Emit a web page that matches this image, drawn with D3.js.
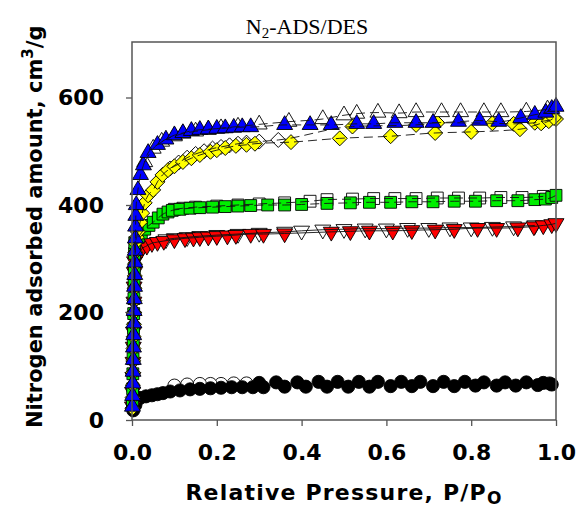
<!DOCTYPE html>
<html><head><meta charset="utf-8">
<script src="https://cdn.jsdelivr.net/npm/d3@7"></script>
<style>body{margin:0;background:#fff}svg{display:block}</style>
</head><body>
<svg id="c" width="577" height="509"></svg>
<script>
// ---------- DATA ----------
const xTicks = [0.0, 0.2, 0.4, 0.6, 0.8, 1.0];
const yTicks = [0, 200, 400, 600];

// Blue (filled/open up-triangles)
const blueAdsP = [0.001,0.0015,0.002,0.0025,0.003,0.0035,0.004,0.0045,0.005,0.0055,0.006,0.0065,0.007,0.0075,0.008,0.0085,0.009,
  0.01,0.014,0.02,0.027,0.038,0.06,0.08,0.1,0.12,0.14,0.16,0.18,0.2,0.22,0.24,0.26,0.28,0.36,0.42,0.47,0.53,0.57,0.62,0.67,0.71,0.77,0.82,0.865,0.917,0.95,0.976,0.99,1.0];
const blueAdsV = [25,45,68,90,112,135,158,180,203,225,248,270,293,315,338,360,380,
  400,428,456,474,497,512,522,530,534,538,540,541,542,543,544,545,545,549,549,549,551,551,553,553,553,555,557,555,562,568,572,579,583];
const blueDesP = [0.98,0.93,0.87,0.83,0.775,0.73,0.67,0.63,0.58,0.53,0.5,0.45,0.37,0.3,0.25,0.21,0.18,0.15,0.12,0.1,0.07,0.05,0.03];
const blueDesV = [578,574,573,573,573,573,573,571,572,570,567,560,555,550,546,543,540,537,533,528,518,505,480];

// Yellow (diamonds)
const yellowAdsP = [0.001,0.0015,0.002,0.0025,0.003,0.0035,0.004,0.0045,0.005,0.0055,0.006,0.0065,0.007,0.0075,0.008,
  0.011,0.014,0.019,0.024,0.03,0.038,0.05,0.06,0.072,0.085,0.1,0.12,0.14,0.16,0.185,0.2,0.22,0.245,0.27,0.29,0.375,0.49,0.61,0.715,0.80,0.915,0.965,0.983,0.995];
const yellowAdsV = [22,42,65,88,110,133,155,178,200,222,245,268,290,312,330,
  340,350,368,385,404,418,428,443,456,465,472,480,487,493,499,502,506,510,512,514,517,524,528,534,536,541,552,556,562];
const yellowDesHighP = [1.0,0.985,0.97,0.95,0.9,0.85,0.72,0.67,0.52];
const yellowDesHighV = [560,558,556,553,551,552,553,549,546];
const yellowDesLowP = [0.345,0.3,0.27,0.25,0.23,0.21,0.19,0.17,0.15,0.13,0.11,0.09];
const yellowDesLowV = [521,518,516,514,511,508,505,500,495,488,479,468];

// Green (squares)
const greenAdsP = [0.001,0.0015,0.002,0.0025,0.003,0.0035,0.004,0.0045,0.005,0.0055,0.006,0.0065,
  0.015,0.022,0.03,0.04,0.05,0.062,0.073,0.085,0.095,0.113,0.137,0.16,0.19,0.22,0.25,0.28,0.32,0.36,0.4,0.46,0.515,0.56,0.61,0.66,0.71,0.76,0.81,0.86,0.91,0.95,0.975,0.99,1.0];
const greenAdsV = [30,58,86,114,142,170,198,226,254,282,310,330,
  340,348,355,362,368,376,383,387,390,392,394,395,396,397,398,399,400,400,401,403,404,405,405,406,406,407,407,408,408,410,411,414,418];
const greenDesP = [0.97,0.92,0.87,0.82,0.77,0.72,0.67,0.62,0.57,0.52,0.46,0.42,0.36,0.3,0.25,0.2,0.15,0.12,0.1];
const greenDesV = [416,414,414,413,413,413,412,412,412,411,410,407,404,402,400,398,396,394,392];

// Red (down-triangles)
const redAdsP = [0.001,0.0015,0.002,0.0025,0.003,0.0035,0.004,0.0045,0.005,0.0055,0.006,
  0.012,0.018,0.023,0.035,0.047,0.06,0.075,0.1,0.125,0.145,0.16,0.18,0.2,0.225,0.245,0.28,0.31,0.36,0.47,0.515,0.56,0.615,0.66,0.715,0.76,0.815,0.86,0.91,0.948,0.97,0.99,1.0];
const redAdsV = [25,52,80,108,136,164,192,220,248,275,295,
  305,312,318,324,329,331,333,336,338,339,340,341,342,343,344,346,346,347,350,351,352,352,353,354,355,357,357,358,360,362,364,366];
const redDesP = [0.95,0.9,0.85,0.8,0.75,0.7,0.65,0.6,0.55,0.5,0.45,0.4,0.36,0.3,0.25,0.2,0.16,0.13,0.1,0.08];
const redDesV = [362,360,359,358,358,357,357,356,356,355,354,352,350,348,346,344,342,340,338,336];

// Black (circles)
const blackAdsP = [0.003,0.008,0.019,0.033,0.047,0.06,0.073,0.09,0.113,0.137,0.16,0.185,0.21,0.235,0.26,0.285,
  0.31,0.36,0.41,0.46,0.51,0.56,0.61,0.66,0.71,0.76,0.81,0.86,0.905,0.957,0.99];
const blackAdsV = [18,28,41,44,46,48,50,53,55,57,58,59,60,61,61,61,
  61,62,62,62,62,62,63,63,63,63,64,64,64,65,66];
const blackDesHighP = [0.985,0.97,0.93,0.88,0.83,0.785,0.735,0.68,0.635,0.58,0.535,0.485,0.44,0.39,0.34,0.3];
const blackDesHighV = [68,69,70,70,70,71,71,71,71,71,71,71,71,70,70,69];
const blackDesLowP = [0.27,0.24,0.21,0.185,0.16,0.13,0.1];
const blackDesLowV = [68,68,67,67,67,66,64];

// ---------- CHART ----------
const svg = d3.select("#c");
const L = 132, R = 556, T = 42, B = 420;
const x = d3.scaleLinear().domain([0, 1]).range([L, R]);
const y = d3.scaleLinear().domain([0, 600]).range([B, 97.5]);

const zip = (P, V) => P.map((p, i) => ({p, v: V[i]}));

const series = [
  {name:"black", sym:d3.symbolCircle, size:135, rot:0, fill:"#000", dash:null,
    ads:zip(blackAdsP,blackAdsV), desHigh:zip(blackDesHighP,blackDesHighV), desLow:zip(blackDesLowP,blackDesLowV)},
  {name:"red", sym:d3.symbolTriangle, size:110, rot:180, fill:"#ff0000", dash:null,
    ads:zip(redAdsP,redAdsV), desHigh:[], desLow:zip(redDesP,redDesV)},
  {name:"green", sym:d3.symbolSquare, size:140, rot:0, fill:"#00ee00", dash:"9,5",
    ads:zip(greenAdsP,greenAdsV), desHigh:[], desLow:zip(greenDesP,greenDesV)},
  {name:"yellow", sym:d3.symbolSquare, size:112, rot:45, fill:"#ffff00", dash:"9,5",
    ads:zip(yellowAdsP,yellowAdsV), desHigh:zip(yellowDesHighP,yellowDesHighV), desLow:zip(yellowDesLowP,yellowDesLowV)},
  {name:"blue", sym:d3.symbolTriangle, size:110, rot:0, fill:"#0000ff", dash:"9,5",
    ads:zip(blueAdsP,blueAdsV), desHigh:[], desLow:zip(blueDesP,blueDesV)}
];

const line = d3.line().x(d => x(d.p)).y(d => y(d.v)).curve(d3.curveMonotoneX);

const gMarks = svg.append("g");
const gLines = svg.append("g");

series.forEach(s => {
  const symPath = d3.symbol().type(s.sym).size(s.size)();
  const draw = (data, fill) => {
    gMarks.append("g").selectAll("path").data(data).join("path")
      .attr("d", symPath)
      .attr("transform", d => `translate(${x(d.p)},${y(d.v)}) rotate(${s.rot})`)
      .attr("fill", fill).attr("stroke", "#000").attr("stroke-width", 0.9);
  };
  draw(s.desLow, "#fff");
  draw(s.desHigh, s.fill);
  draw(s.ads, s.fill);
  if (s.name !== "black") {
    const ads = s.ads.slice().sort((a,b)=>a.p-b.p);
    const des = s.desHigh.concat(s.desLow).sort((a,b)=>a.p-b.p);
    [ads, des].forEach(d => {
      gLines.append("path").attr("d", line(d)).attr("fill","none")
        .attr("stroke","#111").attr("stroke-width",0.9)
        .attr("stroke-dasharray", s.dash);
    });
  }
});

// Frame
const frameColor = "#555";
svg.append("rect").attr("x", L).attr("y", T).attr("width", R-L).attr("height", B-T)
  .attr("fill","none").attr("stroke",frameColor).attr("stroke-width",1.5);

// Axes ticks
const font = "'DejaVu Sans', Verdana, sans-serif";
const xAxis = svg.append("g").attr("transform",`translate(0,${B})`)
  .call(d3.axisBottom(x).tickValues(xTicks).tickFormat(d3.format(".1f")).tickSize(6).tickPadding(18));
const yAxis = svg.append("g").attr("transform",`translate(${L},0)`)
  .call(d3.axisLeft(y).tickValues(yTicks).tickSize(6).tickPadding(22));
[xAxis, yAxis].forEach(a => {
  a.select(".domain").remove();
  a.selectAll(".tick line").attr("stroke", frameColor).attr("stroke-width",1.3);
  a.selectAll("text").attr("fill","#000").style("font-family",font).style("font-weight","bold").style("font-size","22px");
});

// Title
const title = svg.append("text").attr("x", 307).attr("y", 34).attr("text-anchor","middle")
  .style("font-family","'Liberation Serif','Times New Roman',serif").style("font-size","22px").attr("fill","#000");
title.append("tspan").text("N");
title.append("tspan").text("2").style("font-size","15px").attr("dy", 4);
title.append("tspan").text("-ADS/DES").attr("dy", -4);

// X label
const xl = svg.append("text").attr("x", 344).attr("y", 500).attr("text-anchor","middle")
  .style("font-family",font).style("font-weight","bold").style("font-size","22px").style("letter-spacing","1.2px").attr("fill","#000");
xl.append("tspan").text("Relative Pressure, P/P");
xl.append("tspan").text("O").style("font-size","17px").attr("dy", 4);

// Y label
const yl = svg.append("text").attr("transform","translate(42,428) rotate(-90)").attr("text-anchor","start")
  .style("font-family",font).style("font-weight","bold").style("font-size","21px").attr("fill","#000");
yl.append("tspan").text("Nitrogen adsorbed amount, cm");
yl.append("tspan").text("3").style("font-size","15px").attr("dy", -9);
yl.append("tspan").text("/g").attr("dy", 9);
</script>
</body></html>
